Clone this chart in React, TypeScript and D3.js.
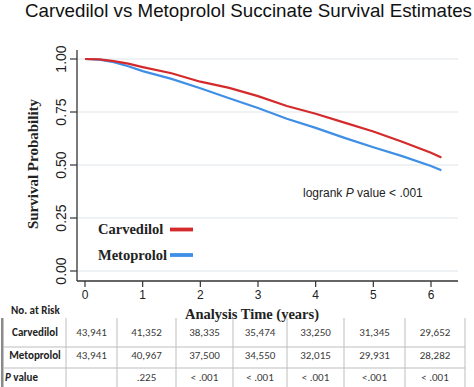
import React from "react";
import * as d3 from "d3";

// ---- data ----
const years = [0, 0.25, 0.5, 0.75, 1, 1.5, 2, 2.5, 3, 3.5, 4, 4.5, 5, 5.5, 6, 6.18];
const carvedilol = [1, 0.998, 0.99, 0.978, 0.962, 0.933, 0.893, 0.864, 0.825, 0.778, 0.742, 0.7, 0.658, 0.61, 0.558, 0.535];
const metoprolol = [1, 0.997, 0.985, 0.966, 0.943, 0.906, 0.862, 0.815, 0.769, 0.718, 0.675, 0.628, 0.584, 0.542, 0.495, 0.475];
const xTicks = [0, 1, 2, 3, 4, 5, 6];
const yTicks = [0, 0.25, 0.5, 0.75, 1];
const rowLabels = ["Carvedilol", "Metoprolol"];
const carvedilolRisk = ["43,941", "41,352", "38,335", "35,474", "33,250", "31,345", "29,652"];
const metoprololRisk = ["43,941", "40,967", "37,500", "34,550", "32,015", "29,931", "28,282"];
const pValues = ["", ".225", "< .001", "< .001", "< .001", "<.001", "< .001"];

const W = 474, H = 387;
const RED = "#d42a2c";
const BLUE = "#3f8fe6";
const SANS = "'Liberation Sans', Arial, sans-serif";
const SERIF = "'Liberation Serif', 'Times New Roman', serif";
const TBL = "Carlito, Lato, sans-serif";

export default function App() {
  const x = d3.scaleLinear().domain([0, 6]).range([85, 431]);
  const y = d3.scaleLinear().domain([0, 1]).range([271, 59]);
  const plotL = 77, plotR = 458, plotT = 50, plotB = 281;

  const line = d3
    .line<number>()
    .x((_, i) => x(years[i]))
    .y((d) => y(d))
    .curve(d3.curveLinear);

  const colEdges = [66, 117, 176, 233, 287, 344, 405, 465];
  const tableTop = 318;
  const rowLines = [347, 368];
  const rowCenters = [332, 355, 377];
  const fs = 11;
  const colCenter = (i: number) => (colEdges[i] + colEdges[i + 1]) / 2;
  const riskRows = [carvedilolRisk, metoprololRisk];

  return (
    <svg width={W} height={H} style={{ position: "absolute", left: 0, top: 0, background: "#fff" }}>
      <rect width={W} height={H} fill="#fff" />
      {/* title */}
      <text x={25} y={17} fontFamily={SANS} fontSize={18.5} textLength={447} lengthAdjust="spacingAndGlyphs" fill="#111">
        Carvedilol vs Metoprolol Succinate Survival Estimates
      </text>

      {/* gridlines */}
      {yTicks.map((t) => (
        <line key={"g" + t} x1={plotL} x2={plotR} y1={y(t)} y2={y(t)} stroke="#eaeef2" strokeWidth={1.5} />
      ))}

      {/* axes */}
      <line x1={plotL} x2={plotL} y1={plotT} y2={plotB} stroke="#333" strokeWidth={1.3} />
      <line x1={plotL} x2={plotR} y1={plotB} y2={plotB} stroke="#333" strokeWidth={1.3} />
      {yTicks.map((t) => (
        <g key={"yt" + t}>
          <line x1={70} x2={plotL} y1={y(t)} y2={y(t)} stroke="#333" strokeWidth={1.2} />
          <text
            transform={`translate(65.5,${y(t)}) rotate(-90)`}
            textAnchor="middle"
            fontFamily={SANS}
            fontSize={14}
            fill="#222"
          >
            {d3.format(".2f")(t)}
          </text>
        </g>
      ))}
      {xTicks.map((t) => (
        <g key={"xt" + t}>
          <line x1={x(t)} x2={x(t)} y1={plotB} y2={287} stroke="#333" strokeWidth={1.2} />
          <text x={x(t)} y={299} textAnchor="middle" fontFamily={SANS} fontSize={12} fill="#222">
            {t}
          </text>
        </g>
      ))}

      {/* axis titles */}
      <text
        transform="translate(37.5,164) rotate(-90)"
        textAnchor="middle"
        fontFamily={SERIF}
        fontWeight="bold"
        fontSize={15}
        fill="#222"
      >
        Survival Probability
      </text>
      <text x={252} y={319} textAnchor="middle" fontFamily={SERIF} fontWeight="bold" fontSize={14.5} fill="#222">
        Analysis Time (years)
      </text>

      {/* curves */}
      <path d={line(metoprolol) || ""} fill="none" stroke={BLUE} strokeWidth={2.2} />
      <path d={line(carvedilol) || ""} fill="none" stroke={RED} strokeWidth={2.2} />

      {/* annotation */}
      <text x={303} y={196.5} fontFamily={SANS} fontSize={12} fill="#222">
        logrank <tspan fontStyle="italic">P</tspan> value {"<"} .001
      </text>

      {/* legend */}
      {rowLabels.map((lab, i) => (
        <g key={lab}>
          <text x={98} y={234 + i * 26} fontFamily={SERIF} fontWeight="bold" fontSize={14.5} fill="#222">
            {lab}
          </text>
          <line x1={170} x2={193} y1={229.5 + i * 25.5} y2={229.5 + i * 25.5} stroke={i === 0 ? RED : BLUE} strokeWidth={3.8} />
        </g>
      ))}

      {/* risk table */}
      <text x={11} y={310.5 + fs * 0.35} fontFamily={TBL} fontWeight="bold" fontSize={fs} fill="#222">
        No. at Risk
      </text>
      <rect x={1} y={tableTop} width={2.5} height={H - tableTop} fill="#8a8a8a" />
      {colEdges.map((cx, i) => (
        <line key={"c" + i} x1={cx} x2={cx} y1={tableTop} y2={H} stroke="#bdbdbd" strokeWidth={1} />
      ))}
      {rowLines.map((ry) => (
        <line key={"r" + ry} x1={3} x2={colEdges[colEdges.length - 1]} y1={ry} y2={ry} stroke="#bdbdbd" strokeWidth={1} />
      ))}
      {rowLabels.map((lab, r) => (
        <text
          key={"lbl" + lab}
          x={35}
          y={rowCenters[r] + fs * 0.35}
          textAnchor="middle"
          fontFamily={TBL}
          fontWeight="bold"
          fontSize={fs}
          fill="#222"
        >
          {lab}
        </text>
      ))}
      <text x={5} y={rowCenters[2] + fs * 0.35} fontFamily={TBL} fontWeight="bold" fontSize={fs} fill="#222">
        <tspan fontStyle="italic">P</tspan> value
      </text>
      {riskRows.map((row, r) =>
        row.map((v, i) => (
          <text
            key={`v${r}-${i}`}
            x={colCenter(i)}
            y={rowCenters[r] + fs * 0.35}
            textAnchor="middle"
            fontFamily={TBL}
            fontSize={fs}
            fill="#3a3a3a"
          >
            {v}
          </text>
        ))
      )}
      {pValues.map((v, i) => (
        <text
          key={"p" + i}
          x={colCenter(i)}
          y={rowCenters[2] + fs * 0.35}
          textAnchor="middle"
          fontFamily={TBL}
          fontSize={fs}
          fill="#3a3a3a"
        >
          {v}
        </text>
      ))}
    </svg>
  );
}
